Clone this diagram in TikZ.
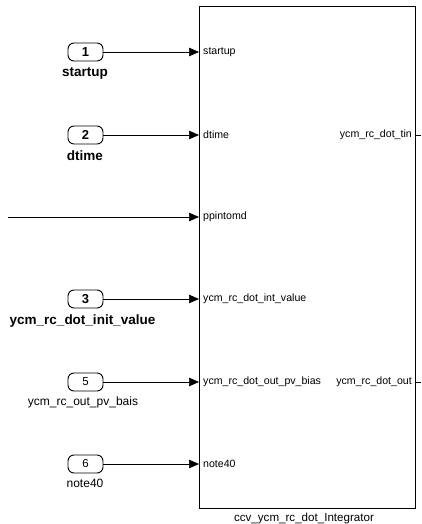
\documentclass[tikz,border=0pt]{standalone}
\usepackage{fontspec}
\setmainfont{Liberation Sans}
\usetikzlibrary{arrows.meta}
\begin{document}
\begin{tikzpicture}[x=1pt,y=-1pt,
  inport/.style={draw,rounded corners=6pt,minimum width=35pt,minimum height=18pt,inner sep=0pt,line width=0.9pt},
  bignum/.style={font=\bfseries\fontsize{13}{13}\selectfont},
  smallnum/.style={font=\fontsize{11.5}{12}\selectfont},
  biglab/.style={font=\bfseries\fontsize{13.5}{14}\selectfont,inner sep=0pt,anchor=base},
  smalllab/.style={font=\fontsize{12}{12}\selectfont,inner sep=0pt,anchor=base},
  portlab/.style={font=\fontsize{10.6}{11}\selectfont,inner sep=0pt},
  sig/.style={line width=0.7pt,-{Triangle[length=10pt,width=8.5pt]}}]
\useasboundingbox (0,0) rectangle (421,524);
% subsystem block
\draw[line width=1pt] (199,7) rectangle (415,508);
\coordinate (pstart) at (199,52);
\coordinate (pdtime) at (199,135);
\coordinate (pppin) at (199,217);
\coordinate (pinit) at (199,299);
\coordinate (pbias) at (199,382);
\coordinate (pnote) at (199,464);
\coordinate (ofree) at (8,217);
% port names inside the block
\node[portlab,anchor=west] at (203,52) {startup};
\node[portlab,anchor=west] at (203,135) {dtime};
\node[portlab,anchor=west] at (203,217) {ppintomd};
\node[portlab,anchor=west] at (203,299) {ycm\_rc\_dot\_int\_value};
\node[portlab,anchor=west] at (203,382) {ycm\_rc\_dot\_out\_pv\_bias};
\node[portlab,anchor=west] at (203,464) {note40};
\node[portlab,anchor=east] at (412,135) {ycm\_rc\_dot\_tin};
\node[portlab,anchor=east] at (412,382) {ycm\_rc\_dot\_out};
% output stubs
\coordinate (o1) at (415,135);
\coordinate (o1e) at (421,135);
\coordinate (o2) at (415,382);
\coordinate (o2e) at (421,382);
\draw[line width=0.7pt] (o1) -- (o1e);
\draw[line width=0.7pt] (o2) -- (o2e);
% block name
\node[font=\fontsize{11.6}{12}\selectfont,inner sep=0pt,anchor=base] (bname) at (304,521.8) {ccv\_ycm\_rc\_dot\_Integrator};
% inports
\node[inport,bignum] (in1) at (85.5,52) {1};
\node[biglab] (l1) at (85,77) {startup};
\node[inport,bignum] (in2) at (85.5,135) {2};
\node[biglab] (l2) at (85,160) {dtime};
\node[inport,bignum] (in3) at (85.5,299) {3};
\node[biglab] (l3) at (82.5,324) {ycm\_rc\_dot\_init\_value};
\node[inport,smallnum] (in5) at (85.5,382) {5};
\node[smalllab] (l5) at (83,405.5) {ycm\_rc\_out\_pv\_bais};
\node[inport,smallnum] (in6) at (85.5,464) {6};
\node[smalllab] (l6) at (85,487.5) {note40};
% signal lines
\draw[sig] (in1.east) -- (pstart);
\draw[sig] (in2.east) -- (pdtime);
\draw[sig] (ofree) -- (pppin);
\draw[sig] (in3.east) -- (pinit);
\draw[sig] (in5.east) -- (pbias);
\draw[sig] (in6.east) -- (pnote);
\end{tikzpicture}
\end{document}
